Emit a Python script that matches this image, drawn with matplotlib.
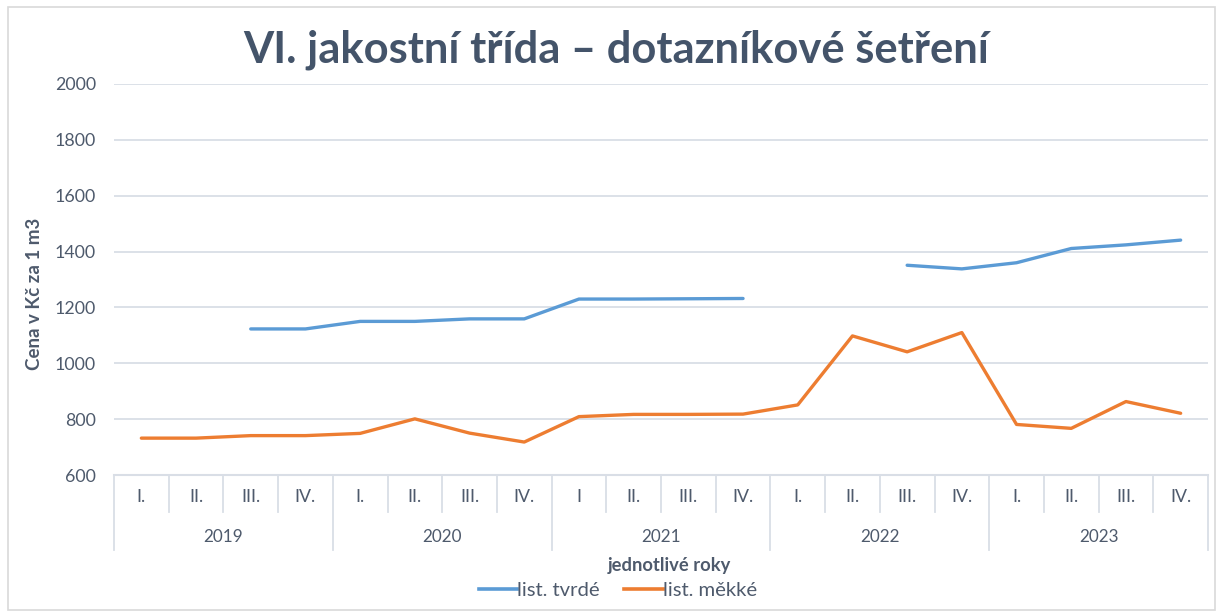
import matplotlib
matplotlib.use("Agg")
import matplotlib.pyplot as plt
from matplotlib.lines import Line2D
from matplotlib.patches import Rectangle
import numpy as np

plt.rcParams['font.family'] = ['Lato', 'DejaVu Sans']

title = "VI. jakostní třída – dotazníkové šetření"
years = ["2019", "2020", "2021", "2022", "2023"]
quarters = ["I.", "II.", "III.", "IV.",
            "I.", "II.", "III.", "IV.",
            "I", "II.", "III.", "IV.",
            "I.", "II.", "III.", "IV.",
            "I.", "II.", "III.", "IV."]
tvrde = [None, None, 1123, 1123, 1150, 1150, 1159, 1159, 1230, 1230, 1231, 1232,
         None, None, 1351, 1338, 1360, 1411, 1424, 1441]
mekke = [732, 732, 741, 741, 749, 801, 750, 718, 809, 817, 817, 818,
         851, 1098, 1041, 1110, 781, 767, 863, 821]
series_names = ["list. tvrdé", "list. měkké"]
ylabel = "Cena v Kč za 1 m3"
xlabel = "jednotlivé roky"

c_blue = "#5B9BD5"
c_orange = "#ED7D31"
c_text = "#4E5A6C"
c_title = "#44546A"
c_grid = "#D9DEE6"

W, H = 1223, 615
fig = plt.figure(figsize=(W / 100, H / 100), dpi=100)
fig.patch.set_facecolor("white")
fig.add_artist(Rectangle((8 / W, 5 / H), (W - 16) / W, (H - 12) / H,
                         transform=fig.transFigure, fill=False,
                         edgecolor="#D9D9D9", linewidth=1.2))

left, right, top, bottom = 114, 1208, 84, 475
ax = fig.add_axes([left / W, 1 - bottom / H, (right - left) / W, (bottom - top) / H])

n = len(quarters)
x = np.arange(n)
tv = np.array([np.nan if v is None else v for v in tvrde], dtype=float)
me = np.array(mekke, dtype=float)
ax.plot(x, tv, color=c_blue, lw=2.4, solid_capstyle="round", zorder=3)
ax.plot(x, me, color=c_orange, lw=2.4, solid_capstyle="round", zorder=3)

ax.set_xlim(-0.5, n - 0.5)
ax.set_ylim(600, 2000)
ax.set_yticks(np.arange(600, 2001, 200))
ax.yaxis.grid(True, color=c_grid, lw=1.3)
ax.set_axisbelow(True)
for s in ax.spines.values():
    s.set_visible(False)
ax.tick_params(axis="y", length=0, pad=13, labelsize=12.8, labelcolor=c_text)
ax.set_xticks([])

tr = ax.get_xaxis_transform()
axh = bottom - top
def fy(py):
    return (bottom - py) / axh

y_q_bot = fy(512)
y_y_bot = fy(550)
ax.plot([-0.5, n - 0.5], [0, 0], transform=tr, color=c_grid, lw=1.5, clip_on=False)
for i in range(n + 1):
    xb = i - 0.5
    yb = y_y_bot if i % 4 == 0 else y_q_bot
    ax.plot([xb, xb], [0, yb], transform=tr, color=c_grid, lw=1.3, clip_on=False)
for i, q in enumerate(quarters):
    ax.text(i, fy(497), q, transform=tr, ha="center", va="center",
            fontsize=12.8, color=c_text)
for j, yr in enumerate(years):
    ax.text(4 * j + 1.5, fy(537), yr, transform=tr, ha="center", va="center",
            fontsize=12.3, color=c_text)

fig.text(616 / W, 1 - 50 / H, title, ha="center", va="center",
         fontsize=31.3, fontweight="bold", color=c_title)
fig.text(35 / W, 1 - 294 / H, ylabel, ha="center", va="center", rotation=90,
         fontsize=13.5, fontweight="bold", color=c_text)
fig.text(669 / W, 1 - 565 / H, xlabel, ha="center", va="center",
         fontsize=13.2, fontweight="bold", color=c_text)

handles = [Line2D([], [], color=c_blue, lw=2.6),
           Line2D([], [], color=c_orange, lw=2.6)]
leg = fig.legend(handles, series_names, loc="center", bbox_to_anchor=(618 / W, 1 - 590 / H),
                 ncol=2, frameon=False, fontsize=14.6, handlelength=1.9,
                 handletextpad=0.0, columnspacing=1.2)
for t in leg.get_texts():
    t.set_color(c_text)

fig.savefig("out.png", dpi=100)
